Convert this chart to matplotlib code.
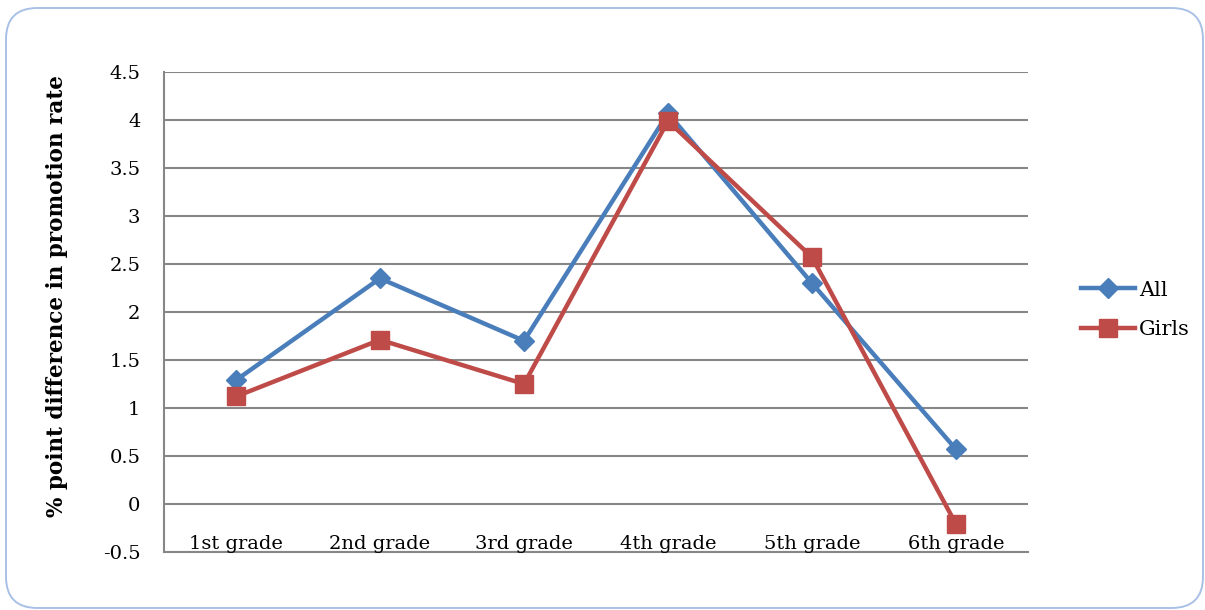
import matplotlib
matplotlib.use("Agg")
import matplotlib.pyplot as plt
from matplotlib.patches import FancyBboxPatch
from matplotlib.transforms import blended_transform_factory

categories = ["1st grade", "2nd grade", "3rd grade", "4th grade", "5th grade", "6th grade"]
all_vals = [1.29, 2.35, 1.70, 4.07, 2.30, 0.57]
girls_vals = [1.12, 1.71, 1.25, 3.99, 2.57, -0.21]
y_ticks = [-0.5, 0, 0.5, 1, 1.5, 2, 2.5, 3, 3.5, 4, 4.5]
y_labels = ["-0.5", "0", "0.5", "1", "1.5", "2", "2.5", "3", "3.5", "4", "4.5"]

BLUE = "#4A7EBB"
RED = "#BE4B48"
GRID = "#878787"
FONT = "DejaVu Serif"

W, H = 1205, 610
fig = plt.figure(figsize=(W / 100, H / 100), dpi=100)
fig.patch.set_facecolor("white")

# rounded frame
frame = FancyBboxPatch((6 / W, 2 / H), (1197 / W), (600 / H),
                       boxstyle="round,pad=0,rounding_size=0.026",
                       transform=fig.transFigure, facecolor="white",
                       edgecolor="#A9C0E6", linewidth=1.4, mutation_aspect=W / H,
                       zorder=-5)
fig.patches.append(frame)

left, right, top, bottom = 164, 1028, 72, 552
ax = fig.add_axes([left / W, 1 - bottom / H, (right - left) / W, (bottom - top) / H])
ax.set_zorder(2)
ax.set_facecolor("none")

x = list(range(len(categories)))
ax.plot(x, all_vals, color=BLUE, lw=3.2, marker="D", markersize=10.5,
        markerfacecolor=BLUE, markeredgecolor=BLUE, label="All", zorder=3)
ax.plot(x, girls_vals, color=RED, lw=3.2, marker="s", markersize=13,
        markerfacecolor=RED, markeredgecolor=RED, label="Girls", zorder=4)

ax.set_xlim(-0.5, len(categories) - 0.5)
ax.set_ylim(-0.5, 4.5)
ax.set_yticks(y_ticks)
ax.set_yticklabels(y_labels, fontsize=14, family=FONT)
ax.tick_params(axis="y", length=0, pad=17)
ax.set_xticks([])
trans = blended_transform_factory(ax.transData, ax.transAxes)
for i, c in enumerate(categories):
    ax.text(i, 0.006, c, transform=trans, ha="center", va="baseline",
            fontsize=14, family=FONT)

ax.grid(axis="y", color=GRID, lw=1.5)
ax.set_axisbelow(True)
for s in ["top", "right"]:
    ax.spines[s].set_visible(False)
for s in ["left", "bottom"]:
    ax.spines[s].set_color(GRID)
    ax.spines[s].set_linewidth(1.5)

fig.text(57 / W, 1 - 296 / H, "% point difference in promotion rate", rotation=90,
         ha="center", va="center", fontsize=15.5, fontweight="bold", family=FONT)

leg = ax.legend(loc="center left", bbox_to_anchor=(1062 / W, 1 - 310 / H),
                bbox_transform=fig.transFigure, frameon=False,
                prop={"family": FONT, "size": 15}, handlelength=2.6,
                handletextpad=0.2, labelspacing=1.0)

fig.savefig("out.png", dpi=100)
